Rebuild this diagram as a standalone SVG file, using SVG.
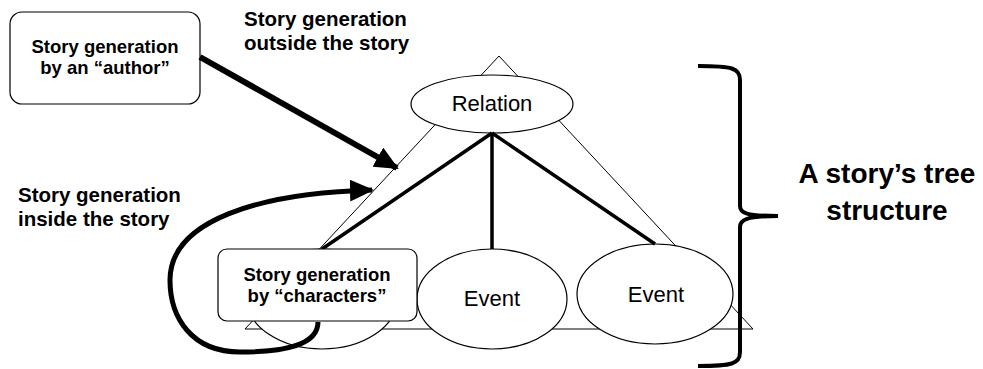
<svg xmlns="http://www.w3.org/2000/svg" width="983" height="369" viewBox="0 0 983 369">
<style>
.t{font-family:"Liberation Sans",Arial,sans-serif;font-weight:bold;font-size:18.5px;fill:#000}
.lbl{font-size:20.5px}
.big{font-size:28px}
.r{font-family:"Liberation Sans",Arial,sans-serif;font-weight:normal;font-size:22px;fill:#000}
.thin{fill:none;stroke:#000;stroke-width:1}
.node{fill:#fff;stroke:#000;stroke-width:1.2}
.bold{stroke:#000;stroke-width:3.5;fill:none}
.arr{stroke:#000;fill:none}
</style>
<defs>
<marker id="ah" markerUnits="userSpaceOnUse" markerWidth="24" markerHeight="22" refX="22" refY="11" orient="auto" viewBox="0 0 24 22">
<path d="M0,0 L24,11 L0,22 z" fill="#000"/>
</marker>
</defs>
<rect width="983" height="369" fill="#fff"/>
<g id="triangle"><polygon class="thin" points="499,56 245,329 753,329"/></g>
<g id="relation"><ellipse class="node" cx="492" cy="104" rx="81" ry="29"/><text class="r" x="492" y="111" text-anchor="middle">Relation</text></g>
<g id="event-left"><ellipse class="node" cx="322" cy="299" rx="75" ry="50"/></g>
<g id="event-mid"><ellipse class="node" cx="492" cy="299" rx="75" ry="50"/><text class="r" x="492" y="306" text-anchor="middle">Event</text></g>
<g id="event-right"><ellipse class="node" cx="655" cy="294" rx="78" ry="50"/><text class="r" x="656" y="302" text-anchor="middle">Event</text></g>
<g id="connectors">
<line class="bold" x1="492" y1="133" x2="322" y2="249"/>
<line class="bold" x1="492" y1="133" x2="492" y2="249"/>
<line class="bold" x1="492" y1="133" x2="655" y2="244"/>
</g>
<g id="characters"><rect class="node" x="218" y="249" width="199" height="72" rx="9"/>
<text class="t" x="317" y="281" text-anchor="middle">Story generation</text>
<text class="t" x="317" y="301.5" text-anchor="middle">by “characters”</text></g>
<g id="author"><rect class="node" x="10" y="12" width="190" height="92" rx="12"/>
<text class="t" x="105" y="52.5" text-anchor="middle">Story generation</text>
<text class="t" x="105" y="73.5" text-anchor="middle">by an “author”</text></g>
<g id="arrows">
<line class="arr" stroke-width="6" x1="200" y1="57" x2="397" y2="168" marker-end="url(#ah)"/>
<path class="arr" stroke-width="5" d="M318,322 C318,345 285,352 240,352 C192,352 170,318 170,280 C170,220 260,193 372,190" marker-end="url(#ah)"/>
</g>
<g id="labels">
<text class="t lbl" x="244" y="26">Story generation</text>
<text class="t lbl" x="244" y="50">outside the story</text>
<text class="t lbl" x="18" y="202">Story generation</text>
<text class="t lbl" x="18" y="225.5">inside the story</text>
</g>
<g id="brace">
<path class="arr" stroke-width="4" d="M698,66 C732,66 740,68 740,80 L740,206 C740,213 746,216 778,216 M778,216 C746,216 740,220 740,227 L740,352 C740,364 732,366 698,366"/>
<text class="t big" x="887" y="183" text-anchor="middle">A story’s tree</text>
<text class="t big" x="887" y="220" text-anchor="middle">structure</text>
</g>
</svg>
